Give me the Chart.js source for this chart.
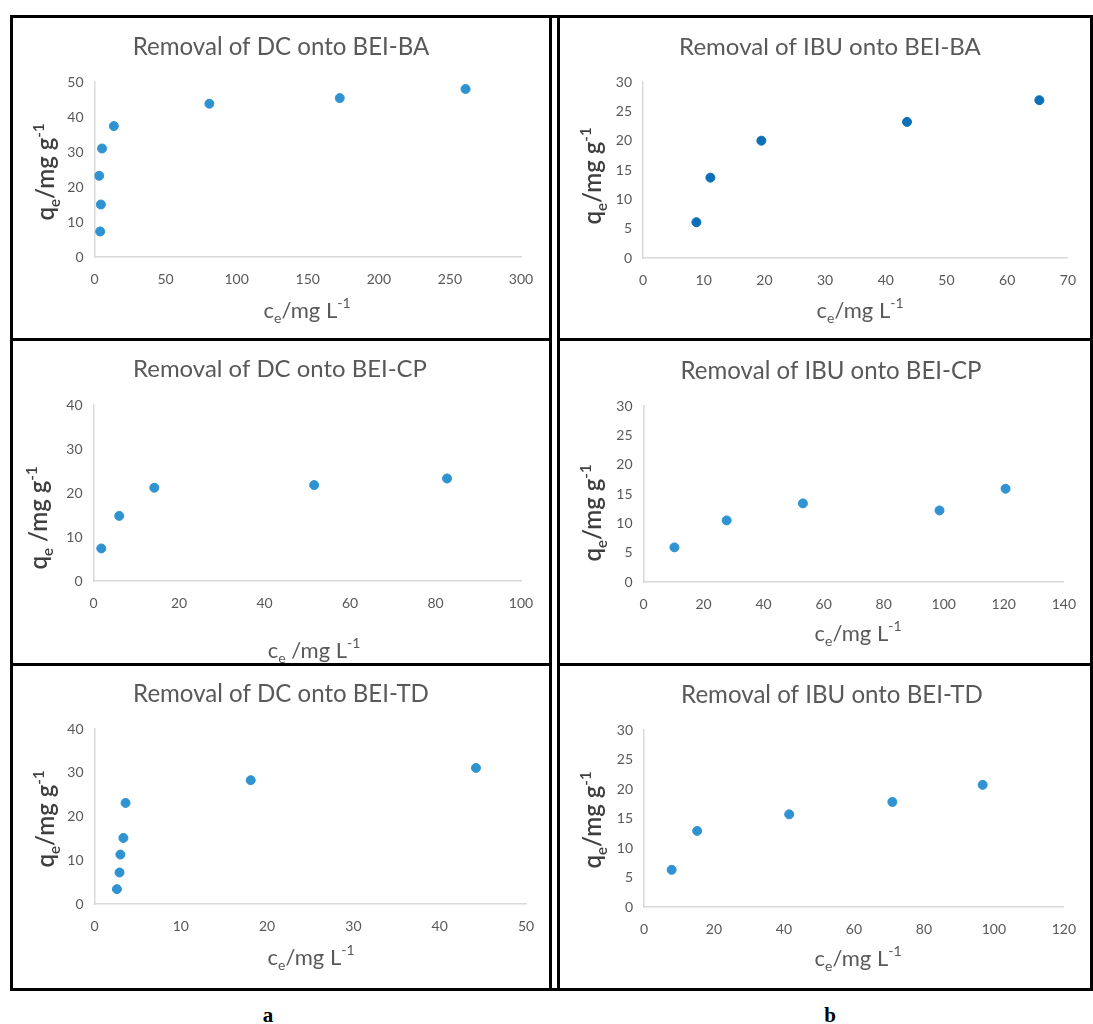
<!DOCTYPE html>
<html lang="en">
<head>
  <meta charset="UTF-8">
  <title>Removal of DC and IBU onto BEI</title>
  <script src="https://cdn.jsdelivr.net/npm/chart.js"></script>
  <style>
    body {
      margin: 0;
      background: #fff;
      width: 1093px;
      height: 1024px;
      position: relative;
      overflow: hidden;
    }
    .line { position: absolute; background: #000; }
    .panel { position: absolute; }
    .tag {
      position: absolute;
      font: bold 21px 'Liberation Serif', 'Times New Roman', serif;
      transform: translate(-50%, -50%);
    }
  </style>
</head>
<body>

<script>
  // ---- data ----
  // DC onto BEI-BA
  const dcBaCe = [4.0, 4.5, 3.3, 5.3, 13.6, 80.8, 172.5, 261];
  const dcBaQe = [7.3, 15.0, 23.2, 31.0, 37.4, 43.8, 45.4, 48.0];
  // IBU onto BEI-BA
  const ibuBaCe = [8.8, 11.1, 19.5, 43.5, 65.3];
  const ibuBaQe = [6.1, 13.7, 20.0, 23.2, 26.9];
  // DC onto BEI-CP
  const dcCpCe = [1.8, 6.0, 14.2, 51.6, 82.7];
  const dcCpQe = [7.4, 14.8, 21.2, 21.8, 23.3];
  // IBU onto BEI-CP
  const ibuCpCe = [10.3, 27.7, 53.1, 98.6, 120.6];
  const ibuCpQe = [5.9, 10.5, 13.4, 12.2, 15.9];
  // DC onto BEI-TD
  const dcTdCe = [2.6, 2.9, 3.0, 3.35, 3.6, 18.1, 44.2];
  const dcTdQe = [3.4, 7.2, 11.3, 15.1, 23.1, 28.3, 31.1];
  // IBU onto BEI-TD
  const ibuTdCe = [7.9, 15.2, 41.5, 71.0, 96.8];
  const ibuTdQe = [6.3, 12.9, 15.7, 17.8, 20.7];

  // axis ranges [max, step]
  const dcBaX = [300, 50],  dcBaY = [50, 10];
  const ibuBaX = [70, 10],  ibuBaY = [30, 5];
  const dcCpX = [100, 20],  dcCpY = [40, 10];
  const ibuCpX = [140, 20], ibuCpY = [30, 5];
  const dcTdX = [50, 10],   dcTdY = [40, 10];
  const ibuTdX = [120, 20], ibuTdY = [30, 5];

  const titles = [
    'Removal of DC onto BEI-BA', 'Removal of IBU onto BEI-BA',
    'Removal of DC onto BEI-CP', 'Removal of IBU onto BEI-CP',
    'Removal of DC onto BEI-TD', 'Removal of IBU onto BEI-TD'
  ];

  const FONT = "Lato, 'Open Sans', sans-serif";
  const GREY = '#595959';

  // frame lines [x, y, w, h]
  const lines = [
    [10, 15, 1083, 3], [10, 338, 542, 3], [557, 338, 536, 3],
    [10, 663, 542, 3], [557, 663, 536, 3], [10, 988, 1083, 3],
    [10, 15, 3, 976], [549, 15, 3, 976], [557, 15, 3, 976], [1090, 15, 3, 976]
  ];
  lines.forEach(l => {
    const d = document.createElement('div');
    d.className = 'line';
    d.style.cssText = `left:${l[0]}px;top:${l[1]}px;width:${l[2]}px;height:${l[3]}px`;
    document.body.appendChild(d);
  });

  // draw text with sub/superscript pieces, centred on (cx, cy)
  function drawRich(ctx, parts, cx, cy, angle, size, color, weight) {
    const small = Math.round(size * 0.62);
    const fontOf = k => `${weight} ${k ? small : size}px ${FONT}`;
    let total = 0;
    parts.forEach(p => { ctx.font = fontOf(p[1]); total += ctx.measureText(p[0]).width; });
    ctx.save();
    ctx.translate(cx, cy);
    ctx.rotate(angle);
    ctx.fillStyle = color;
    ctx.textBaseline = 'alphabetic';
    ctx.textAlign = 'left';
    let x = -total / 2;
    const base = size * 0.35;
    parts.forEach(p => {
      ctx.font = fontOf(p[1]);
      const dy = p[1] === 1 ? size * 0.25 : p[1] === 2 ? -size * 0.42 : 0;
      ctx.fillText(p[0], x, base + dy);
      x += ctx.measureText(p[0]).width;
    });
    ctx.restore();
  }

  const richLabels = {
    id: 'richLabels',
    afterDraw(chart, args, o) {
      const ctx = chart.ctx;
      const [bx, by] = o.box;
      // title, sized to the width it has in the picture
      ctx.save();
      ctx.font = `20px ${FONT}`;
      const w = ctx.measureText(o.title).width;
      const size = 20 * o.titleWidth / w;
      ctx.font = `${size}px ${FONT}`;
      ctx.fillStyle = GREY;
      ctx.textAlign = 'center';
      ctx.textBaseline = 'middle';
      ctx.fillText(o.title, o.titlePos[0] - bx, o.titlePos[1] - by);
      ctx.restore();
      drawRich(ctx, o.xLabel, o.xPos[0] - bx, o.xPos[1] - by, 0, 22, GREY, 'normal');
      drawRich(ctx, o.yLabel, o.yPos[0] - bx, o.yPos[1] - by, -Math.PI / 2, 24, '#3f3f3f', '600');
    }
  };

  const xLab = [['c', 0], ['e', 1], ['/mg L', 0], ['-1', 2]];
  const xLabSp = [['c', 0], ['e', 1], [' /mg L', 0], ['-1', 2]];
  const yLab = [['q', 0], ['e', 1], ['/mg g', 0], ['-1', 2]];
  const yLabSp = [['q', 0], ['e', 1], [' /mg g', 0], ['-1', 2]];

  function makePanel(p) {
    const [bx, by, bw, bh] = p.box;
    const [l, t, r, b] = p.area;
    const cv = document.createElement('canvas');
    cv.className = 'panel';
    cv.style.left = bx + 'px';
    cv.style.top = by + 'px';
    cv.width = bw;
    cv.height = bh;
    document.body.appendChild(cv);

    const pts = p.x.map((v, i) => ({ x: v, y: p.y[i] }));
    new Chart(cv, {
      type: 'scatter',
      data: {
        datasets: [{
          data: pts,
          backgroundColor: p.color,
          borderColor: p.color,
          pointRadius: 4.5,
          pointHoverRadius: 4.5
        }]
      },
      plugins: [richLabels],
      options: {
        responsive: false,
        animation: false,
        layout: { padding: { top: t - by, right: bw - (r - bx), left: 0, bottom: 0 } },
        plugins: {
          legend: { display: false },
          tooltip: { enabled: false },
          richLabels: {
            box: [bx, by],
            title: p.title, titlePos: p.titlePos, titleWidth: p.titleWidth,
            xLabel: p.xLabel, xPos: p.xPos,
            yLabel: p.yLabel, yPos: p.yPos
          }
        },
        scales: {
          x: {
            type: 'linear',
            min: 0, max: p.xr[0],
            grid: { display: false, drawTicks: false },
            border: { display: true, color: '#d9d9d9', width: 1.5 },
            ticks: { stepSize: p.xr[1], padding: 14, color: GREY, font: { family: FONT, size: 14 } },
            afterFit: s => { s.height = bh - (b - by); }
          },
          y: {
            type: 'linear',
            min: 0, max: p.yr[0],
            grid: { display: false, drawTicks: false },
            border: { display: true, color: '#d9d9d9', width: 1.5 },
            ticks: { stepSize: p.yr[1], padding: 11, color: GREY, font: { family: FONT, size: 14 } },
            afterFit: s => { s.width = l - bx; }
          }
        }
      }
    });
  }

  const DOT = '#2f93d1';

  makePanel({ box: [13, 18, 536, 320], area: [94.5, 82, 521, 257],
    x: dcBaCe, y: dcBaQe, xr: dcBaX, yr: dcBaY, color: DOT,
    title: titles[0], titlePos: [281, 47], titleWidth: 297,
    xLabel: xLab, xPos: [307, 310], yLabel: yLab, yPos: [46, 172] });

  makePanel({ box: [560, 18, 530, 320], area: [643, 82, 1077, 258],
    x: ibuBaCe, y: ibuBaQe, xr: ibuBaX, yr: ibuBaY, color: '#0b70b8',
    title: titles[1], titlePos: [830, 47], titleWidth: 302,
    xLabel: xLab, xPos: [860, 310], yLabel: yLab, yPos: [593, 176] });

  makePanel({ box: [13, 341, 536, 322], area: [93.6, 405, 521, 581],
    x: dcCpCe, y: dcCpQe, xr: dcCpX, yr: dcCpY, color: DOT,
    title: titles[2], titlePos: [280, 369], titleWidth: 294,
    xLabel: xLabSp, xPos: [314, 650], yLabel: yLabSp, yPos: [39, 518] });

  makePanel({ box: [560, 341, 530, 322], area: [643.5, 406, 1073.5, 582],
    x: ibuCpCe, y: ibuCpQe, xr: ibuCpX, yr: ibuCpY, color: DOT,
    title: titles[3], titlePos: [831, 371], titleWidth: 301,
    xLabel: xLab, xPos: [858, 633], yLabel: yLab, yPos: [593, 513] });

  makePanel({ box: [13, 666, 536, 322], area: [94.5, 729, 526, 904],
    x: dcTdCe, y: dcTdQe, xr: dcTdX, yr: dcTdY, color: DOT,
    title: titles[4], titlePos: [281, 694], titleWidth: 296,
    xLabel: xLab, xPos: [311, 957], yLabel: yLab, yPos: [46, 819] });

  makePanel({ box: [560, 666, 530, 322], area: [644, 730, 1074.5, 907],
    x: ibuTdCe, y: ibuTdQe, xr: ibuTdX, yr: ibuTdY, color: DOT,
    title: titles[5], titlePos: [832, 695], titleWidth: 302,
    xLabel: xLab, xPos: [858, 958], yLabel: yLab, yPos: [593, 820] });

  // panel letters under the columns
  [['a', 268, 1015], ['b', 830, 1015]].forEach(t => {
    const d = document.createElement('div');
    d.className = 'tag';
    d.textContent = t[0];
    d.style.left = t[1] + 'px';
    d.style.top = t[2] + 'px';
    document.body.appendChild(d);
  });
</script>
</body>
</html>
